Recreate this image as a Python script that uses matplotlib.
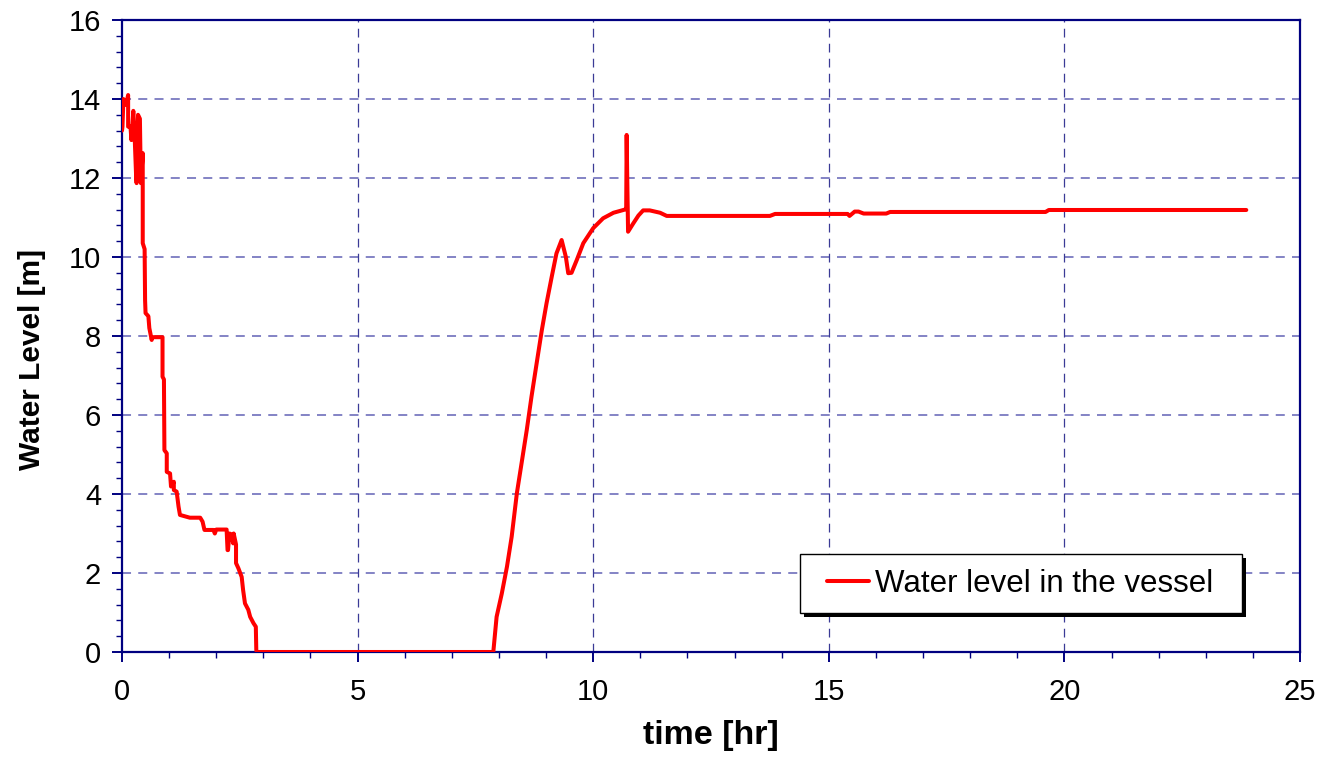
import matplotlib
matplotlib.use("Agg")
import matplotlib.pyplot as plt
from matplotlib.ticker import MultipleLocator
from matplotlib.patches import Rectangle
from matplotlib.transforms import offset_copy

plt.rcParams['font.family'] = ['Liberation Sans', 'DejaVu Sans']

# ---- data ----
time_hr = [0.0, 0.01, 0.03, 0.085, 0.13, 0.13, 0.18, 0.20, 0.24, 0.27, 0.30, 0.31,
           0.34, 0.38, 0.40, 0.44, 0.44, 0.48, 0.49, 0.50, 0.56, 0.58, 0.63, 0.64,
           0.86, 0.86, 0.89, 0.90, 0.95, 0.95, 1.02, 1.04, 1.10, 1.10, 1.16, 1.20,
           1.23, 1.44, 1.66, 1.71, 1.75, 1.94, 1.97, 2.00, 2.22, 2.24, 2.25, 2.28,
           2.32, 2.36, 2.37, 2.42, 2.42, 2.47, 2.54, 2.57, 2.61, 2.68, 2.72, 2.79,
           2.84, 2.85, 2.86,
           7.88, 7.95, 8.06, 8.17, 8.27, 8.38, 8.48, 8.59, 8.69, 8.80, 8.91, 9.01,
           9.12, 9.22, 9.33, 9.42, 9.47, 9.54, 9.65, 9.79, 10.0, 10.21, 10.43,
           10.67, 10.70, 10.71, 10.72, 10.74, 10.85, 10.96, 11.06, 11.20, 11.42,
           11.56, 13.75, 13.86, 15.40, 15.44, 15.55, 15.63, 15.74, 16.22, 16.30,
           19.60, 19.67, 23.86]
water_level = [13.2, 13.3, 14.0, 13.85, 14.1, 13.3, 13.3, 12.96, 13.7, 13.0, 12.03, 11.87,
               13.6, 13.5, 11.87, 12.63, 10.35, 10.2, 8.9, 8.58, 8.5, 8.2, 7.9, 7.97,
               7.97, 6.97, 6.9, 5.11, 5.03, 4.56, 4.52, 4.19, 4.31, 4.10, 4.06, 3.68,
               3.47, 3.40, 3.40, 3.30, 3.09, 3.09, 3.0, 3.1, 3.1, 2.58, 2.58, 3.0,
               2.98, 2.75, 3.0, 2.72, 2.25, 2.12, 1.9, 1.57, 1.23, 1.07, 0.89, 0.73,
               0.64, 0.05, 0.0,
               0.0, 0.89, 1.48, 2.16, 2.92, 4.02, 4.78, 5.62, 6.46, 7.31, 8.15, 8.83,
               9.5, 10.09, 10.43, 10.0, 9.59, 9.6, 9.92, 10.35, 10.73, 10.98, 11.12,
               11.2, 11.22, 13.09, 12.2, 10.64, 10.85, 11.05, 11.18, 11.18, 11.12,
               11.04, 11.04, 11.09, 11.09, 11.04, 11.15, 11.15, 11.1, 11.1, 11.14,
               11.14, 11.19, 11.19]
series_label = "Water level in the vessel"
x_label = "time [hr]"
y_label = "Water Level [m]"
x_ticks = [0, 5, 10, 15, 20, 25]
y_ticks = [0, 2, 4, 6, 8, 10, 12, 14, 16]

navy = '#000080'

fig = plt.figure(figsize=(13.23, 7.72), dpi=100)
AX_L, AX_R, AX_T, AX_B = 122, 1300, 20, 652
AX_W, AX_H = AX_R - AX_L, AX_B - AX_T
ax = fig.add_axes([AX_L/1323, 1 - AX_B/772, AX_W/1323, AX_H/772])

ax.plot(time_hr, water_level, color='#FF0000', lw=2.9, label=series_label,
        solid_joinstyle='round', solid_capstyle='round', zorder=3)

ax.set_xlim(0, 25)
ax.set_ylim(0, 16)
ax.set_xticks(x_ticks)
ax.set_yticks(y_ticks)
ax.xaxis.set_minor_locator(MultipleLocator(1))
ax.yaxis.set_minor_locator(MultipleLocator(0.4))

for s in ax.spines.values():
    s.set_color(navy)
    s.set_linewidth(1.6)

ax.tick_params(axis='both', which='major', direction='out', length=7, width=1.4,
               color=navy, labelsize=21, pad=8)
ax.tick_params(axis='both', which='minor', direction='out', length=4.5, width=1.0,
               color=navy)
ax.tick_params(axis='x', which='major', pad=12)

for yv in y_ticks[1:-1]:
    ax.axhline(yv, color='#7A7AC0', lw=1.3, ls=(0, (5, 4)), zorder=1)
for xv in x_ticks[1:-1]:
    ax.axvline(xv, color='#3A3A96', lw=0.9, ls=(0, (7, 5)), zorder=1)

ax.set_xlabel(x_label, fontsize=24.5, fontweight='bold', labelpad=10)
ax.set_ylabel(y_label, fontsize=21.5, fontweight='bold')
ax.yaxis.set_label_coords((46 - AX_L) / AX_W, (AX_B - 359) / AX_H)

# legend box with black shadow (pixel-placed like the reference)
bx0, bx1, by0, by1 = 800, 1242, 554, 613
rect_kw = dict(width=(bx1 - bx0) / AX_W, height=(by1 - by0) / AX_H)
anchor = ((bx0 - AX_L) / AX_W, (AX_B - by1) / AX_H)
shadow = Rectangle(anchor, **rect_kw, facecolor='black', edgecolor='none',
                   transform=offset_copy(ax.transAxes, fig=fig, x=4, y=-4, units='dots'),
                   zorder=5, clip_on=False)
box = Rectangle(anchor, **rect_kw, facecolor='white', edgecolor='black', lw=1.0,
                transform=ax.transAxes, zorder=5.1, clip_on=False)
ax.add_patch(shadow)
ax.add_patch(box)

leg = ax.legend(loc='center left',
                bbox_to_anchor=((827 - AX_L) / AX_W, (AX_B - 584) / AX_H),
                borderaxespad=0, borderpad=0, frameon=False,
                fontsize=22.5, handlelength=1.35, handletextpad=0.2)
leg.set_zorder(6)

fig.savefig('out.png', dpi=100)
